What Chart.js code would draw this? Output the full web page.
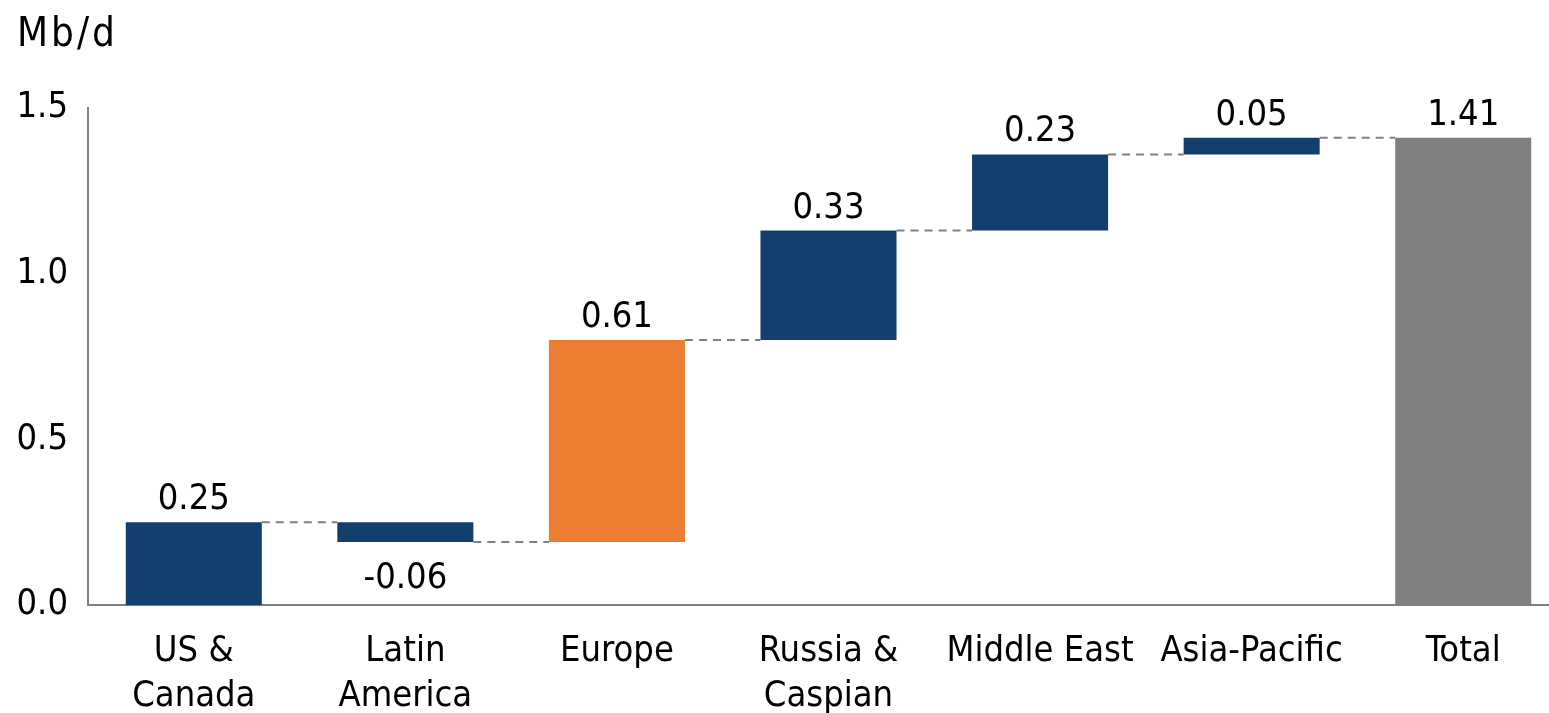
<!DOCTYPE html>
<html>
<head>
<meta charset="utf-8">
<script src="https://cdn.jsdelivr.net/npm/chart.js@4"></script>
<style>
  html, body { margin: 0; padding: 0; overflow: hidden; background: #fff; }
  #wrap { width: 1572px; height: 713px; }
</style>
</head>
<body>
<div id="wrap"><canvas id="chart"></canvas></div>
<script>
const categories = [["US &", "Canada"], ["Latin", "America"], "Europe", ["Russia &", "Caspian"], "Middle East", "Asia-Pacific", "Total"];
const changes = [0.25, -0.06, 0.61, 0.33, 0.23, 0.05];
const total = 1.41;
const barColors = ["#123F6D", "#123F6D", "#ED7D31", "#123F6D", "#123F6D", "#123F6D", "#808080"];
const yTicks = [0, 0.5, 1.0, 1.5];
const unitLabel = "Mb/d";

const FONT = "'DejaVu Sans Condensed', 'DejaVu Sans', sans-serif";

// floating bars: [start, end] for each step, total from zero
const ranges = [];
const labels = [];
let run = 0;
changes.forEach((v) => {
  ranges.push([run, +(run + v).toFixed(2)]);
  labels.push(v.toFixed(2));
  run = +(run + v).toFixed(2);
});
ranges.push([0, total]);
labels.push(total.toFixed(2));

const waterfallExtras = {
  id: "waterfallExtras",
  afterDatasetsDraw(chart) {
    const ctx = chart.ctx;
    const meta = chart.getDatasetMeta(0);
    const y = chart.scales.y;
    ctx.save();
    // dashed connectors
    ctx.strokeStyle = "#808080";
    ctx.lineWidth = 2;
    ctx.setLineDash([8, 6]);
    for (let i = 0; i < meta.data.length - 1; i++) {
      const a = meta.data[i], b = meta.data[i + 1];
      const level = y.getPixelForValue(ranges[i][1]);
      ctx.beginPath();
      ctx.moveTo(a.x + a.width / 2, level);
      ctx.lineTo(b.x - b.width / 2, level);
      ctx.stroke();
    }
    ctx.setLineDash([]);
    // value labels
    ctx.fillStyle = "#000";
    ctx.font = "36px " + FONT;
    ctx.textAlign = "center";
    ctx.textBaseline = "alphabetic";
    meta.data.forEach((bar, i) => {
      const r = ranges[i];
      const neg = r[1] < r[0];
      const top = y.getPixelForValue(Math.max(r[0], r[1]));
      const bottom = y.getPixelForValue(Math.min(r[0], r[1]));
      ctx.fillText(labels[i], bar.x, neg ? bottom + 46 : top - 13);
    });
    // unit label, top left
    ctx.font = "40px " + FONT;
    ctx.textAlign = "left";
    ctx.letterSpacing = "3px";
    ctx.fillText(unitLabel, 17, 46);
    ctx.restore();
  }
};

new Chart(document.getElementById("chart"), {
  type: "bar",
  data: {
    labels: categories,
    datasets: [{
      data: ranges,
      backgroundColor: barColors,
      borderWidth: 0,
      barPercentage: 0.643,
      categoryPercentage: 1.0
    }]
  },
  options: {
    responsive: true,
    maintainAspectRatio: false,
    animation: false,
    layout: { padding: { left: 0, right: 3, top: 108, bottom: 0 } },
    plugins: {
      legend: { display: false },
      tooltip: { enabled: false },
      title: { display: false }
    },
    scales: {
      x: {
        grid: { display: false, drawTicks: false },
        border: { display: true, color: "#808080", width: 2 },
        ticks: {
          color: "#000",
          padding: 24,
          maxRotation: 0,
          autoSkip: false,
          font: { family: FONT, size: 36, lineHeight: 1.25 }
        },
        afterFit(scale) { scale.height = 108; }
      },
      y: {
        min: yTicks[0],
        max: yTicks[yTicks.length - 1],
        grid: { display: false, drawTicks: false },
        border: { display: true, color: "#808080", width: 2 },
        afterBuildTicks(scale) { scale.ticks = yTicks.map((v) => ({ value: v })); },
        ticks: {
          color: "#000",
          padding: 20,
          font: { family: FONT, size: 36 },
          callback: (v) => Number(v).toFixed(1)
        },
        afterFit(scale) { scale.width = 88; }
      }
    }
  },
  plugins: [waterfallExtras]
});
</script>
</body>
</html>
